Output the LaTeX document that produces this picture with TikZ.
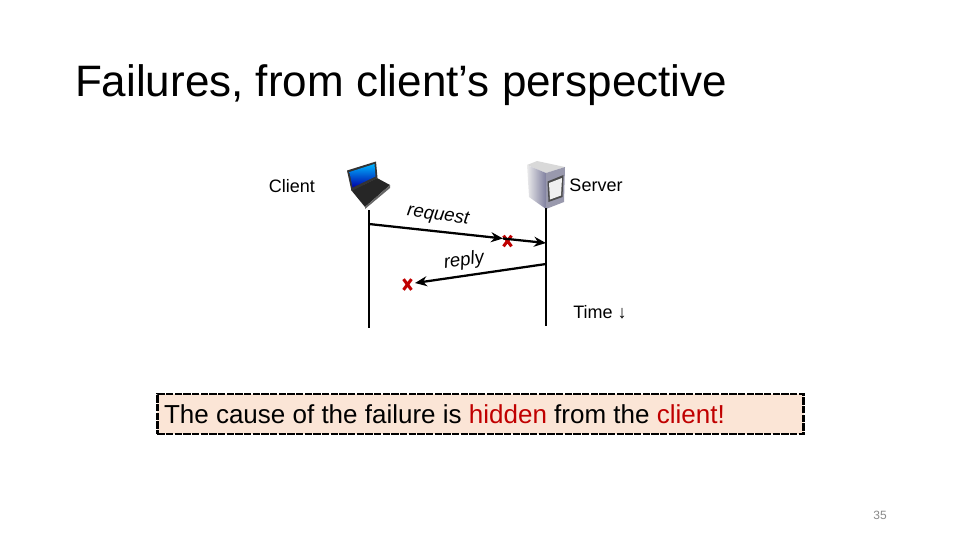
\documentclass[tikz,border=0pt]{standalone}
\usepackage{fontspec}
\setmainfont{Liberation Sans}
\usetikzlibrary{shapes.misc,arrows.meta}
\definecolor{boxFill}{HTML}{FBE5D6}
\definecolor{failRed}{HTML}{C00000}
\definecolor{pageGrey}{HTML}{898989}

\begin{document}
\begin{tikzpicture}
	[x=0.75pt,y=-0.75pt,
		every node/.style	={inner sep=0pt
									, outer sep=0pt
									},
		label/.style		={font=\fontsize{13.5}{16}\selectfont
									},
		message/.style		={font=\fontsize{14}{16}\selectfont\itshape
									},
		timeline/.style		={draw
									, line width=1.9pt
									},
		line/.style		 	={draw
									, line width=1.7pt
									, -{Stealth[length=9pt,width=7.5pt]}
									},
		failure/.style		={cross out
									, draw=failRed
									, line width=2.3pt
									, minimum width=6pt
									, minimum height=8pt
									},
		callout/.style		={draw
									, line width=2.2pt
									, dash pattern=on 5.5pt off 1pt
									, fill=boxFill
									, minimum width=485pt
									, minimum height=30pt
									}
	]
\useasboundingbox (0,0) rectangle (960,540);

% title and page number
\node [anchor=west, font=\fontsize{33}{38}\selectfont] (title) at (75,85) {Failures, from client’s perspective};
\node [text=pageGrey, font=\fontsize{9}{11}\selectfont] (pagenum) at (880,515) {35};

% laptop
\fill [black!85] (351.5,190.5) -- (377,178) -- (390,185) -- (365,207) -- cycle;
\fill [black!60] (365,207) -- (390,185) -- (390,188) -- (365,209) -- cycle;
\fill [black!80] (347,170.5) -- (376,161.5) -- (377.5,178) -- (351.5,191) -- cycle;
\shade [top color=blue!30!cyan, bottom color=blue!65!black] (349.5,172) -- (374.5,164) -- (375.5,176.5) -- (352.5,187.5) -- cycle;

% server
\fill [black!15] (527,165) -- (537,161) -- (565,167) -- (546,173) -- cycle;
\shade [left color=black!8, right color=blue!25!black!50] (527,165) -- (546,173) -- (546,209) -- (529,197) -- cycle;
\fill [blue!20!black!40] (546,173) -- (565,167) -- (564,202) -- (546,209) -- cycle;
\fill [black!70] (547.5,181.5) -- (563.5,175) -- (562.5,197) -- (548.5,202) -- cycle;
\fill [black!6] (549,183) -- (562,178) -- (561,195.5) -- (550,199.5) -- cycle;

% labels
\node [label] (client) at (292,186) {Client};
\node [label] (server) at (596,185) {Server};
\node [label] (time) at (600,312) {Time ↓};

% where things go
\coordinate (client top) at (369,210);
\coordinate (client bottom) at (369,328);
\coordinate (server top) at (546,208);
\coordinate (server bottom) at (546,326);
\coordinate (request start) at (369,224);
\coordinate (request mid) at (503,238.5);
\coordinate (request end) at (546,243);
\coordinate (reply start) at (546,264);
\coordinate (reply end) at (415,283);

\node [failure] (request lost) at (507.5,241) {};
\node [failure] (reply lost) at (407.5,284.5) {};
\node [message, rotate=-8] (request) at (438,216) {request};
\node [message, rotate=9] (reply) at (464,261) {reply};

\begin{scope}[every path/.style=timeline]
	\path	(client top)	-- (client bottom);
	\path	(server top)	-- (server bottom);
\end{scope}
\begin{scope}[every path/.style=line]
	\path	(request start)	-- (request mid);
	\path	(request mid)	-- (request end);
	\path	(reply start)	-- (reply end);
\end{scope}

% callout
\node [callout] (cause) at (480.5,414) {};
\node [anchor=west, font=\fontsize{19.5}{22}\selectfont] (cause text) at (164,414) {The cause of the failure is \textcolor{failRed}{hidden} from the \textcolor{failRed}{client!}};
\end{tikzpicture}
\end{document}
